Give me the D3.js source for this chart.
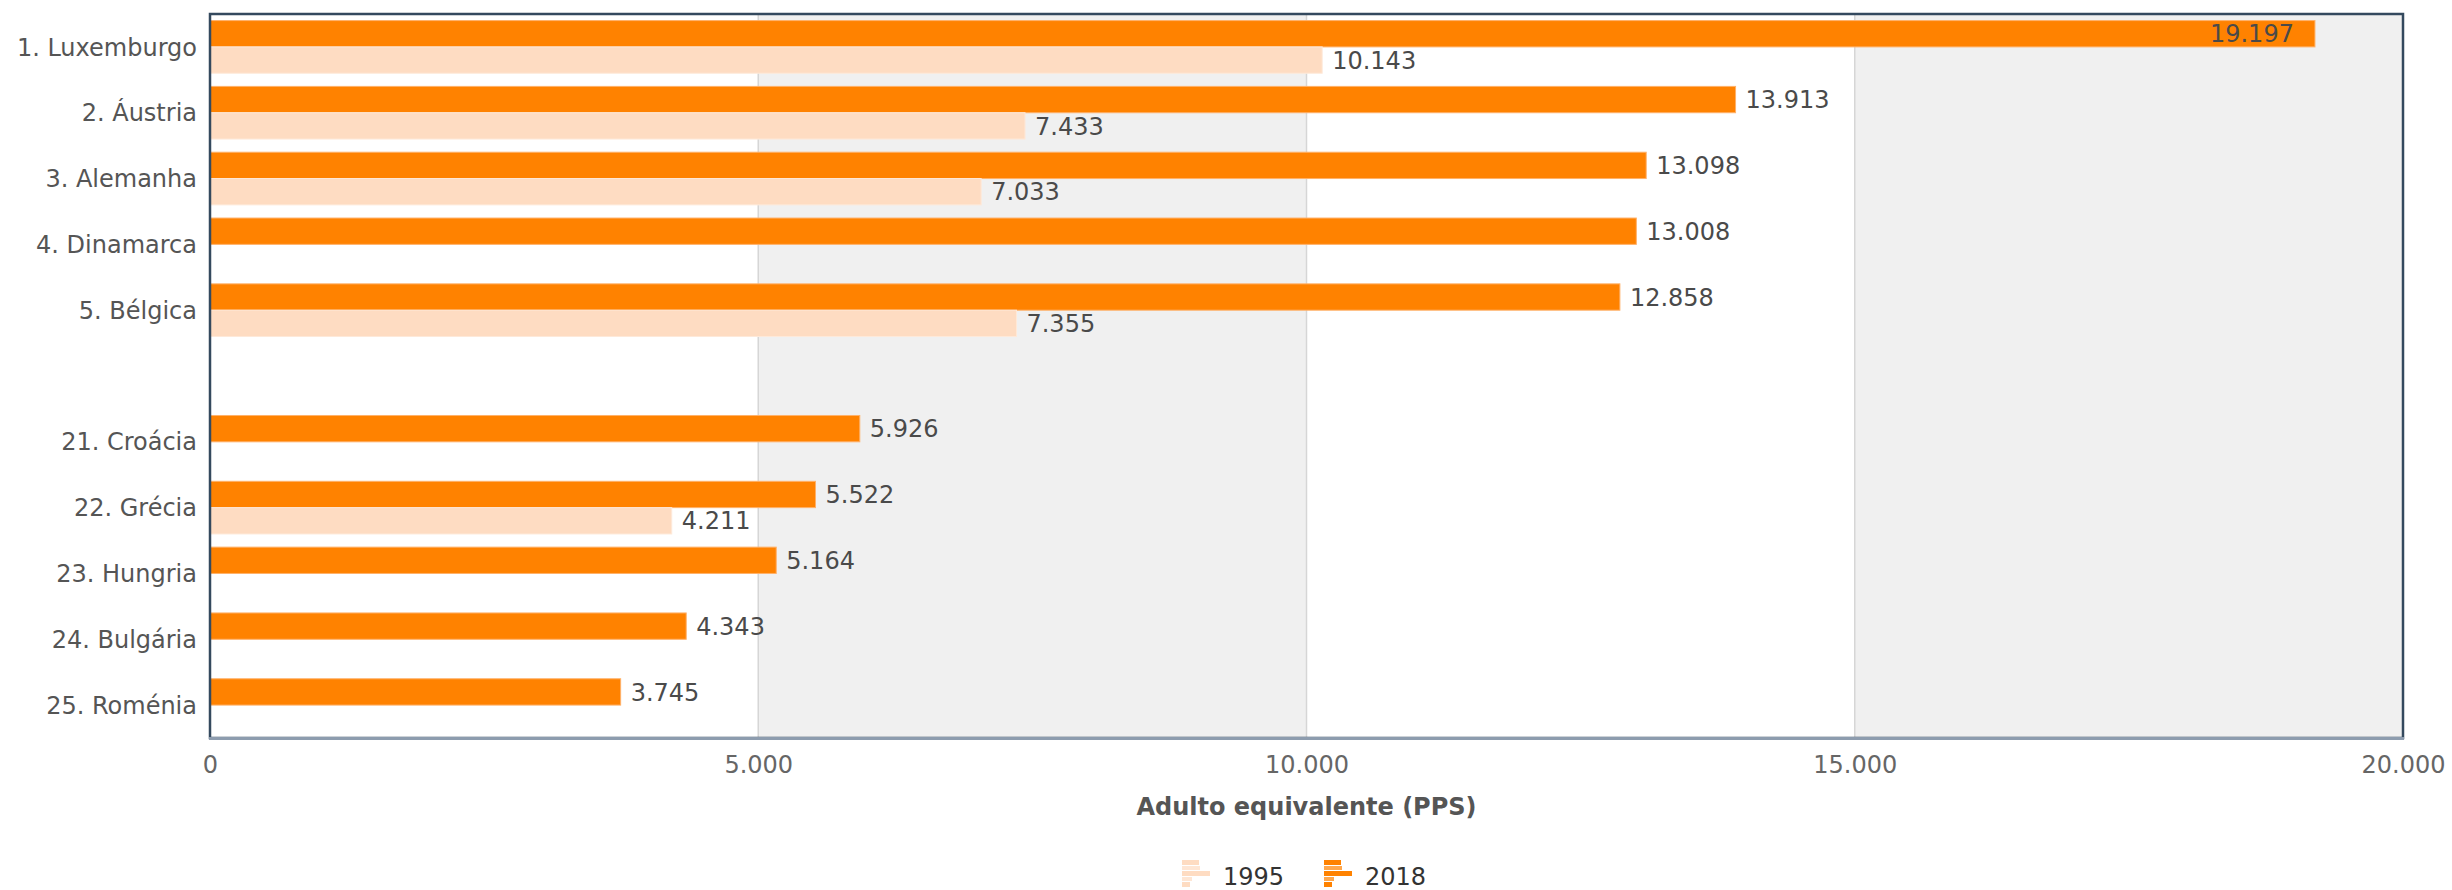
<!DOCTYPE html>
<html>
<head>
<meta charset="utf-8">
<script src="https://cdn.jsdelivr.net/npm/d3@7/dist/d3.min.js"></script>
<style>
  html, body { margin: 0; padding: 0; background: #ffffff; }
  svg { display: block; }
  text { font-family: "DejaVu Sans", Verdana, sans-serif; }
</style>
</head>
<body>
<svg id="chart" width="2452" height="890"></svg>
<script>
// ---- Data ----
const categories = ["1. Luxemburgo", "2. Áustria", "3. Alemanha", "4. Dinamarca", "5. Bélgica", "",
                    "21. Croácia", "22. Grécia", "23. Hungria", "24. Bulgária", "25. Roménia"];
const values2018 = [19197, 13913, 13098, 13008, 12858, null, 5926, 5522, 5164, 4343, 3745];
const values1995 = [10143, 7433, 7033, null, 7355, null, null, 4211, null, null, null];
const seriesNames = ["2018", "1995"];
const legendNames = ["1995", "2018"];
const xTicks = [0, 5000, 10000, 15000, 20000];
const xDomain = [0, 20000];
const axisTitle = "Adulto equivalente (PPS)";

// ---- Layout ----
const W = 2452, H = 890;
const plot = { left: 210, top: 14, right: 2403, bottom: 738 };
const colors = { "2018": "#ff8200", "1995": "#fedcc2" };
const strokeColors = { "2018": "#ffb169", "1995": "#fee9d9" };

const locale = d3.formatLocale({ decimal: ",", thousands: ".", grouping: [3], currency: ["", ""] });
const fmt = locale.format(",d");

const svg = d3.select("#chart");

const x = d3.scaleLinear().domain(xDomain).range([plot.left, plot.right]);
const y = d3.scaleBand().domain(d3.range(categories.length)).range([plot.top, plot.bottom]).padding(0);
const ySub = d3.scaleBand().domain(seriesNames).range([0, y.bandwidth()]).paddingInner(0).paddingOuter(0.25);

// alternate bands
const bandPairs = d3.pairs(xTicks);
svg.append("g").selectAll("rect").data(bandPairs).join("rect")
  .attr("x", d => x(d[0])).attr("width", d => x(d[1]) - x(d[0]))
  .attr("y", plot.top).attr("height", plot.bottom - plot.top)
  .attr("fill", (d, i) => i % 2 === 1 ? "#f0f0f0" : "#ffffff");

// grid lines
svg.append("g").selectAll("line").data(xTicks.slice(1, -1)).join("line")
  .attr("x1", d => x(d)).attr("x2", d => x(d))
  .attr("y1", plot.top).attr("y2", plot.bottom)
  .attr("stroke", "#d6d6d6").attr("stroke-width", 1.5);

// bars
const rows = [];
categories.forEach((c, i) => {
  if (values2018[i] != null) rows.push({ i, s: "2018", v: values2018[i] });
  if (values1995[i] != null) rows.push({ i, s: "1995", v: values1995[i] });
});

const gBars = svg.append("g");
gBars.selectAll("rect").data(rows).join("rect")
  .attr("x", x(0))
  .attr("y", d => y(d.i) + ySub(d.s))
  .attr("width", d => x(d.v) - x(0))
  .attr("height", ySub.bandwidth())
  .attr("fill", d => colors[d.s])
  .attr("stroke", d => strokeColors[d.s])
  .attr("stroke-width", 1);

// data labels
const gLab = svg.append("g");
rows.forEach(d => {
  const t = gLab.append("text")
    .attr("x", x(d.v) + 10)
    .attr("y", y(d.i) + ySub(d.s) + ySub.bandwidth() / 2)
    .attr("dy", "0.36em")
    .attr("font-size", 24)
    .attr("fill", "#4a4a4a")
    .text(fmt(d.v));
  const w = t.node().getComputedTextLength();
  if (x(d.v) + 10 + w > plot.right) {
    t.attr("x", x(d.v) - 21).attr("text-anchor", "end");
  }
});

// plot border
svg.append("rect")
  .attr("x", plot.left).attr("y", plot.top)
  .attr("width", plot.right - plot.left).attr("height", plot.bottom - plot.top)
  .attr("fill", "none").attr("stroke", "#34495e").attr("stroke-width", 2.5);

// x axis line
svg.append("line")
  .attr("x1", plot.left - 1).attr("x2", plot.right + 1)
  .attr("y1", plot.bottom + 0.5).attr("y2", plot.bottom + 0.5)
  .attr("stroke", "#8d9cae").attr("stroke-width", 3);

// x axis tick labels
const xAxis = d3.axisBottom(x).tickValues(xTicks).tickSize(0).tickPadding(0).tickFormat(d => fmt(d));
const gx = svg.append("g").attr("transform", `translate(0, ${plot.bottom})`).call(xAxis);
gx.select(".domain").remove();
gx.selectAll("text")
  .attr("y", 35).attr("dy", 0)
  .attr("font-size", 24).attr("fill", "#666666")
  .style("font-family", "'DejaVu Sans', Verdana, sans-serif");

// y axis category labels
const yAxis = d3.axisLeft(y).tickSize(0).tickPadding(0).tickFormat(i => categories[i]);
const gy = svg.append("g").attr("transform", `translate(${plot.left - 13}, 0)`).call(yAxis);
gy.select(".domain").remove();
gy.selectAll("text")
  .attr("x", 0).attr("dy", "0.36em")
  .attr("font-size", 24).attr("fill", "#555555")
  .style("font-family", "'DejaVu Sans', Verdana, sans-serif");

// axis title
svg.append("text")
  .attr("x", (plot.left + plot.right) / 2).attr("y", 815)
  .attr("text-anchor", "middle")
  .attr("font-size", 24).attr("font-weight", "bold").attr("fill", "#555555")
  .text(axisTitle);

// legend
const legendX = { "1995": 1182, "2018": 1324 };
legendNames.forEach(name => {
  const g = svg.append("g").attr("transform", `translate(${legendX[name]}, 860)`);
  const c = colors[name];
  g.append("rect").attr("x", 0).attr("y", 0).attr("width", 17).attr("height", 5).attr("fill", c);
  g.append("rect").attr("x", 0).attr("y", 6).attr("width", 18).attr("height", 4).attr("fill", c).attr("opacity", 0.7);
  g.append("rect").attr("x", 0).attr("y", 11).attr("width", 28).attr("height", 5).attr("fill", c);
  g.append("rect").attr("x", 0).attr("y", 17).attr("width", 10).attr("height", 4).attr("fill", c).attr("opacity", 0.7);
  g.append("rect").attr("x", 0).attr("y", 22).attr("width", 8).attr("height", 5).attr("fill", c);
  g.append("text").attr("x", 41).attr("y", 25)
    .attr("font-size", 24).attr("fill", "#333333").text(name);
});
</script>
</body>
</html>
